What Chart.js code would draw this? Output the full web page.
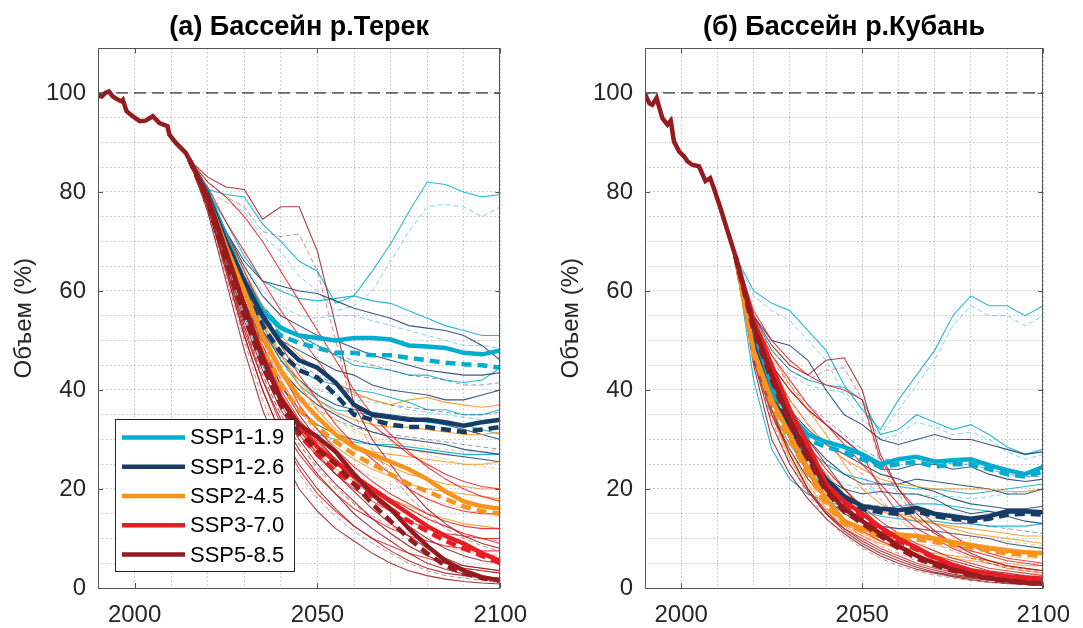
<!DOCTYPE html>
<html>
<head>
<meta charset="utf-8">
<script src="https://cdn.jsdelivr.net/npm/chart.js@4.4.1/dist/chart.umd.min.js"></script>
<style>
  body { margin: 0; background: #fff; width: 1083px; height: 628px; overflow: hidden; position: relative; }
  #chartA { position: absolute; left: 0; top: 0; }
  #chartB { position: absolute; left: 547px; top: 0; }
</style>
</head>
<body>
<canvas id="chartA" width="540" height="628"></canvas>
<canvas id="chartB" width="536" height="628"></canvas>
<script>
// сценарии
const ssp = ["SSP1-1.9", "SSP1-2.6", "SSP2-4.5", "SSP3-7.0", "SSP5-8.5"];
const sspRgb = [[0, 173, 207], [23, 60, 102], [247, 148, 32], [231, 29, 37], [149, 27, 30]];

// годы проекций (первая точка берётся из исторического ряда)
const projYears = [2020, 2025, 2030, 2035, 2040, 2045, 2050, 2055, 2060, 2065, 2070, 2075, 2080, 2085, 2090, 2095, 2100];

//>>>>>>>>>>>>>>>>>>>>>>>>>>>>>>>> Терек <<<<<<<<<<<<<<<<<<<<<<<<<<<<<<<<
const histYearsA = [1990, 1991, 1992, 1993, 1994, 1995.5, 1996.4, 1996.8, 1997.8, 1999.5, 2001.4, 2003, 2005, 2006.8, 2009, 2009.5, 2011.3, 2014, 2015];
const histVolA = [99.5, 99.3, 100, 100.3, 99.3, 98.6, 98.3, 98.6, 96.3, 95.3, 94.3, 94.4, 95.3, 93.9, 93.3, 91.6, 89.9, 87.9, 86.5];

const terek119Mean = [80, 71, 62, 56, 52.5, 51, 50.5, 50, 50.5, 50.5, 50.2, 49, 48.8, 48.5, 47.5, 47.2, 48];
const terek119Mean2 = [79, 70, 61, 54.5, 51, 49.5, 48.5, 47.5, 47.5, 47, 47, 46.5, 46, 45.5, 45.2, 45, 44.5];
const terek119Runs = [
  [80.5, 79.5, 79, 73.5, 70, 66, 64, 57.5, 59, 64, 69.5, 76, 82, 81.5, 80, 79, 79.5],
  [80, 74, 67, 62, 60, 58.5, 58, 58.5, 59, 58, 57.5, 56, 54.5, 53, 52, 51, 51],
  [79, 71, 63, 57, 53, 51, 49, 47, 45, 44.5, 44, 43, 43, 42, 41.5, 42, 44.5],
  [78, 69, 60, 52, 47, 44, 42, 41, 40, 39.5, 38.5, 37.5, 36, 36, 35, 35, 36],
  [79, 70, 61, 53, 46, 41, 38, 36, 35.5, 35, 34.5, 34, 33.5, 33, 33, 32, 31],
  [77, 66, 55, 45, 38, 33, 31, 30, 29.5, 29, 29, 28.5, 28, 27.5, 27, 27, 27]
];
const terek119Runs2 = [
  [80, 78, 76, 71, 68, 63, 60, 56, 57, 60, 66, 72, 77, 77.5, 77, 75, 77],
  [79, 72, 65, 60, 57, 55, 54.5, 55, 55, 54, 53, 52, 51, 50, 49, 49, 48.5],
  [77, 66, 57, 50, 45, 42, 40, 39, 38, 37.5, 37, 36, 35.5, 35, 34.5, 34, 34]
];

const terek126Mean = [79.5, 70, 62, 55, 49.5, 46, 44.5, 41.5, 37, 35, 34.5, 34, 34, 33.5, 32.8, 33.5, 34];
const terek126Mean2 = [79, 69, 60, 53, 47.5, 44, 42.5, 39, 35, 34, 33, 32.5, 32.5, 32, 31.5, 32, 32.5];
const terek126Runs = [
  [80, 72, 66, 62, 61, 60, 59.5, 58, 56.5, 55.5, 54.5, 53, 52.5, 52, 51, 49, 46],
  [80, 72, 65, 59, 55, 53, 51, 50, 48.5, 47, 46, 45, 44, 43.5, 43, 43, 43.5],
  [79, 70, 61, 54, 50, 48, 46, 44, 43, 41, 40, 39.5, 39, 38, 38, 39, 40],
  [79, 69, 60, 52, 46, 42, 39, 37, 36, 35.5, 35, 34.5, 34, 33, 32, 31, 30],
  [78, 68, 58, 50, 44, 40, 37, 35, 33, 31.5, 30.5, 30, 29.5, 29, 28, 27.5, 27],
  [78, 67, 57, 48, 41, 36, 33, 31, 30, 29, 28.5, 28, 27.5, 27, 26.5, 26, 25.5]
];
const terek126Runs2 = [
  [79, 71, 63, 57, 53, 51, 49, 47, 46, 45, 44, 43, 42.5, 42, 41, 41, 41.5],
  [78, 68, 58, 50, 44, 39, 36, 34, 32.5, 31.5, 31, 30.5, 30, 29.5, 29, 28.5, 28],
  [79, 69, 60, 53, 48, 45, 43, 41, 39, 38, 37, 36.5, 36, 35.5, 35, 35, 35.5]
];

const terek245Mean = [79, 69, 60, 51, 44, 38.5, 34.5, 31, 28.5, 27, 25.5, 24, 22, 19.5, 17.5, 16.5, 16];
const terek245Mean2 = [78, 67, 57, 48, 41, 36, 32.5, 29.5, 27, 25, 23, 21, 19.5, 18, 16.5, 15.5, 15];
const terek245Runs = [
  [80, 72, 64, 57, 51, 47, 44, 41.5, 39.5, 38, 37, 38, 38.5, 37.5, 37, 36.5, 37],
  [79, 70, 61, 53, 47, 42, 38, 35.5, 34, 33, 32.5, 32.5, 32, 31.5, 31, 31, 31.5],
  [79, 69, 59, 50, 43, 38, 34, 31, 29, 27.5, 27, 26.5, 26, 25.5, 25, 25, 25.5],
  [78, 68, 58, 49, 42, 36, 32, 28.5, 26, 24, 22.5, 21, 20, 19.5, 19, 18.5, 18],
  [78, 67, 56, 46, 38, 32, 27.5, 24, 21.5, 19.5, 18, 16.5, 15, 14, 13, 12.5, 12],
  [80, 71, 62, 54, 47, 41, 36, 32, 29, 26.5, 24.5, 23, 22, 21, 20.5, 20, 20]
];
const terek245Runs2 = [
  [79, 70, 61, 53, 46, 41, 37, 34, 31.5, 30, 29, 28, 27, 26, 25, 24.5, 24],
  [78, 67, 57, 48, 41, 35, 30.5, 27, 24.5, 22.5, 21, 19.5, 18, 17, 16, 15, 14.5],
  [79, 69, 59, 51, 45, 40, 36.5, 34, 32, 30.5, 29.5, 29, 28.5, 28, 27.5, 27.5, 28]
];

const terek370Mean = [79, 68, 57, 47, 38.5, 33, 28.5, 25.5, 22.5, 20, 17.5, 15, 12.5, 10.5, 9, 7, 5.5];
const terek370Mean2 = [78, 66, 55, 45, 37, 31, 27, 23.5, 21, 18.5, 16, 13.5, 11.5, 9.5, 8, 6.5, 5];
const terek370Runs = [
  [81, 74, 68, 62, 56, 51, 46, 41, 37, 33, 30, 27, 25, 23, 21.5, 20.5, 20],
  [80, 72, 64, 56, 49, 43, 38, 33, 29, 26, 23, 20, 18, 16.5, 15.5, 15, 15],
  [79, 70, 61, 52, 44, 37, 32, 28, 24.5, 21.5, 19, 17, 15, 13.5, 12.5, 12, 12],
  [78, 67, 56, 46, 37, 31, 26.5, 23, 20, 17.5, 15.5, 13.5, 12, 11, 10.5, 10, 10],
  [77, 65, 53, 42, 33, 27, 22.5, 19, 16, 14, 12, 10.5, 9.5, 8.5, 8, 7.5, 7.5],
  [77, 64, 51, 40, 31, 24, 19, 15.5, 12.5, 10, 8.5, 7, 6, 5, 4.5, 4, 3.5],
  [82, 79, 75, 70, 64, 58, 52, 46, 40, 35, 31, 27.5, 24.5, 22, 20, 18.5, 17.5],
  [79, 69, 58, 48, 40, 34, 29.5, 26, 23, 20.5, 18, 16, 14, 12.5, 11, 10, 9]
];
const terek370Runs2 = [
  [79, 69, 59, 50, 42, 36, 31, 27, 23.5, 20.5, 18, 16, 14, 12.5, 11, 10, 9.5],
  [77, 65, 53, 43, 35, 29, 24, 20, 17, 14.5, 12.5, 11, 9.5, 8.5, 7.5, 7, 6.5]
];

const terek585Mean = [79, 68, 57, 46.5, 38, 33, 30.5, 27.5, 23, 19, 16, 12, 8.5, 5.5, 3.5, 2.2, 1.5];
const terek585Mean2 = [78, 66, 55, 45, 37, 31.5, 28, 25, 21, 17, 13.5, 10, 7, 4.5, 3, 2, 1.5];
const terek585Runs = [
  [83, 81, 80.5, 74.5, 77, 77, 68, 53, 37, 30, 25, 20, 16, 13, 10.5, 9, 8],
  [78, 66, 54, 44, 36, 30, 25, 21, 17.5, 14, 11, 8.5, 6.5, 5, 4, 3.5, 3],
  [77, 64, 51, 40, 31, 25, 20, 16, 12.5, 10, 7.5, 5.5, 4, 3, 2.5, 2, 1.5],
  [76, 62, 48, 36, 27, 20, 15.5, 12, 9.5, 7, 5, 3.5, 2.5, 1.8, 1.3, 1, 0.8],
  [79, 68, 58, 49, 41, 35, 30, 26, 22, 18.5, 15.5, 12.5, 10, 8, 6.5, 5.5, 5],
  [78, 67, 56, 46, 38, 32, 27, 23, 19.5, 16, 13, 10.5, 8, 6, 4.5, 4, 3.5],
  [77, 65, 52, 42, 34, 28, 23, 19, 15, 12, 9.5, 7, 5, 3.8, 2.8, 2.2, 2]
];
const terek585Runs2 = [
  [82, 79, 77, 72, 71, 71.5, 64, 50, 35, 28, 23, 18.5, 15, 12, 10, 8.5, 7.5],
  [76, 63, 50, 38, 29, 23, 18, 14.5, 11.5, 9, 7, 5, 3.5, 2.5, 2, 1.5, 1],
  [77, 65, 53, 43, 35, 29, 24.5, 20.5, 17, 14, 11, 8.5, 6.5, 5, 4, 3.5, 3]
];

//>>>>>>>>>>>>>>>>>>>>>>>>>>>>>>>> Кубань <<<<<<<<<<<<<<<<<<<<<<<<<<<<<<<<
const histYearsB = [1990, 1991.2, 1992, 1993.2, 1994, 1994.8, 1996.2, 1997.1, 1998, 1999.4, 2000.8, 2001.7, 2003, 2004.9, 2006.7, 2008, 2009, 2010.8, 2013.1, 2015];
const histVolB = [99.8, 97.9, 97.6, 99, 96.9, 94.9, 93.6, 94.4, 90.2, 88.2, 87.2, 86.2, 85.5, 85.2, 82.2, 82.8, 80.8, 76.8, 71.4, 67];

const kuban119Mean = [50, 40, 35, 31, 29.5, 28.5, 27, 25, 26, 26.5, 25.5, 25.8, 26, 24.8, 23.8, 23, 24.5];
const kuban119Mean2 = [49, 39, 34, 30, 28.5, 27.5, 26, 24.5, 25, 25.5, 24.5, 25, 25, 24, 23, 22.5, 23.5];
const kuban119Runs = [
  [60, 57.5, 56, 52, 48, 41, 36, 32, 38, 43, 48, 55, 59, 57, 57, 55, 57],
  [55, 48, 44, 42, 41, 40.5, 38, 31, 32, 35, 33.5, 32, 33, 31, 28.5, 27, 28],
  [52, 41, 33, 28, 25, 23, 22, 21, 20.5, 20, 20, 19.5, 19, 19.5, 20, 20.5, 21],
  [47, 36, 29, 24, 20, 17, 15.5, 14.5, 14, 13.5, 13.5, 13, 13, 12.5, 12.5, 12.5, 13],
  [42, 28, 22, 19, 17.5, 16.5, 16, 16, 16.5, 17, 17, 16.5, 16, 15.5, 15, 15, 15]
];
const kuban119Runs2 = [
  [59, 56, 54, 50, 46, 39, 34, 31, 36, 41, 46, 53, 57, 55, 55, 53, 55],
  [54, 47, 43, 41, 40, 39.5, 37, 30, 31, 33.5, 32.5, 31, 31.5, 30, 27.5, 26, 27],
  [49, 38, 31, 26.5, 23, 21, 20, 19.5, 19, 19, 18.5, 18.5, 18, 18.5, 19, 19.5, 20]
];

const kuban126Mean = [49, 38, 33, 27, 22, 18.5, 16.5, 16, 15.7, 16.2, 15, 14.5, 14, 14.5, 15.5, 15.5, 15.3];
const kuban126Mean2 = [48, 37, 32, 26, 21, 18, 16, 15.3, 15, 15.5, 14.5, 14, 13.5, 14, 14.8, 15, 14.8];
const kuban126Runs = [
  [55, 50, 49, 46, 40, 35, 33, 30, 29, 30, 31, 30, 30, 29, 28, 27, 27.5],
  [52, 45, 40, 36, 33, 30, 27, 24, 24, 25, 25, 24, 24.5, 23, 22, 21.5, 22],
  [50, 41, 35, 30, 26, 23, 21, 21, 21, 22, 21.5, 21, 20.5, 20, 19, 19, 20],
  [48, 38, 31, 26, 22, 20, 19, 19.5, 19, 19, 18, 16, 15, 15.5, 14.5, 13.5, 13],
  [46, 35, 28, 22, 18, 15, 13.5, 12.5, 12, 12, 11.5, 11, 10.5, 10, 9, 8.5, 8],
  [51, 42, 36, 32, 29, 27, 25, 23, 22, 20.5, 19.5, 18, 17, 16.5, 16, 16, 16.5]
];
const kuban126Runs2 = [
  [52, 46, 41, 37, 34, 31, 28, 26, 26, 26.5, 26, 25, 25, 24, 23, 22.5, 22.5],
  [47, 37, 30, 25, 21, 18.5, 17, 16.5, 16, 15.5, 14.5, 13.5, 13, 12.5, 12, 11.5, 11]
];

const kuban245Mean = [48, 38, 31, 24, 18, 13.5, 12, 11, 10.8, 10.5, 10, 9.3, 8.7, 8, 7.5, 7.2, 7];
const kuban245Mean2 = [47, 37, 30, 23, 17, 13, 11.5, 10.5, 10, 9.8, 9.3, 8.7, 8.2, 7.5, 7, 6.7, 6.5];
const kuban245Runs = [
  [54, 45, 38, 33, 29, 26, 24, 22, 21, 20.5, 20, 20, 20, 20, 19.5, 19.5, 20],
  [52, 42, 34, 28, 23, 19, 17, 15.5, 14.5, 13.5, 13, 12.5, 12, 11.5, 11, 10.5, 10.5],
  [50, 39, 31, 25, 20, 16, 13.5, 12, 11, 10.5, 10, 9.5, 9, 8.5, 8, 7.5, 7],
  [48, 36, 28, 21, 16, 13, 11, 9.5, 8.5, 7.5, 7, 6.5, 6, 5.5, 5, 4.5, 4.5],
  [55, 47, 41, 36, 31, 25, 20, 17, 15, 14, 13, 12, 11, 10.5, 10, 9.5, 9],
  [47, 35, 26, 20, 15.5, 12.5, 10.5, 9, 8, 7, 6.5, 6, 5.5, 5, 4, 3.5, 3]
];
const kuban245Runs2 = [
  [51, 41, 33, 27, 22, 18, 15.5, 14, 13, 12, 11.5, 11, 10.5, 10, 9.5, 9, 8.5],
  [49, 38, 30, 24, 19, 15, 12.5, 11, 10, 9, 8.5, 8, 7.5, 7, 6.5, 6, 6]
];

const kuban370Mean = [54, 45, 36, 29, 21, 17.5, 15, 12.3, 10, 8.2, 6.2, 4.7, 3.6, 3, 2.4, 2, 1.8];
const kuban370Mean2 = [53, 44, 35, 28, 20.5, 17, 14.5, 12, 9.5, 7.8, 6, 4.5, 3.5, 2.8, 2.2, 1.9, 1.6];
const kuban370Runs = [
  [56, 50, 46, 43, 41, 40, 38, 26, 20, 16, 13, 10.5, 8.5, 7, 6, 5.5, 5],
  [53, 45, 40, 36, 33, 30, 27, 20, 15, 12, 10, 8, 6.5, 5.5, 4.5, 4, 3.5],
  [51, 42, 35, 29, 24, 20, 16.5, 13.5, 11, 9, 7.5, 6, 5, 4, 3.5, 3, 2.5],
  [49, 38, 30, 23, 18, 14, 11.5, 9.5, 8, 6.5, 5.5, 4.5, 3.5, 3, 2.5, 2, 1.8],
  [47, 35, 27, 20, 15.5, 12, 10, 8, 6.5, 5, 4, 3.2, 2.6, 2, 1.6, 1.3, 1.1],
  [54, 47, 42, 37, 33, 29, 25, 21, 17, 13.5, 11, 9, 7.5, 6.5, 5.5, 5, 4.5]
];
const kuban370Runs2 = [
  [52, 44, 38, 33, 29, 26, 23, 18, 14, 11, 9, 7.5, 6, 5, 4, 3.5, 3],
  [48, 36, 28, 22, 17, 13, 10.5, 8.5, 7, 5.5, 4.5, 3.5, 3, 2.5, 2, 1.7, 1.5]
];

const kuban585Mean = [53, 43, 34, 27, 20, 16, 13.5, 11, 8.5, 6.5, 5, 3.8, 2.8, 2, 1.5, 1.1, 0.9];
const kuban585Mean2 = [52, 42, 33, 26, 19.5, 15.5, 13, 10.5, 8, 6, 4.6, 3.5, 2.6, 1.9, 1.4, 1, 0.8];
const kuban585Runs = [
  [55, 49, 45, 43, 46, 46.5, 40, 27, 20, 15, 11.5, 9, 7, 5.5, 4.5, 4, 3.5],
  [48, 36, 27, 20, 15, 11.5, 9, 7, 5.5, 4.2, 3.2, 2.5, 2, 1.6, 1.3, 1.1, 1],
  [46, 33, 25, 19.5, 15, 12, 9.5, 7.5, 6, 4.6, 3.6, 2.8, 2.2, 1.7, 1.3, 1, 0.8],
  [45, 30, 23, 18, 14, 11, 8.5, 6.5, 5, 3.8, 3, 2.3, 1.7, 1.2, 0.9, 0.7, 0.5],
  [52, 43, 36, 30, 25, 20, 16, 12.5, 10, 8, 6.5, 5.5, 4.5, 3.5, 3, 2.5, 2.2],
  [50, 40, 32, 26, 21, 17, 13.5, 11, 8.5, 6.5, 5, 4, 3, 2.3, 1.8, 1.5, 1.2]
];
const kuban585Runs2 = [
  [54, 48, 44, 42, 44, 44.5, 38, 25, 19, 14, 11, 8.5, 6.5, 5, 4.3, 3.8, 3.3],
  [46, 34, 25, 19, 14, 10.5, 8, 6, 4.5, 3.5, 2.6, 2, 1.5, 1.1, 0.9, 0.7, 0.6],
  [51, 41, 34, 28, 23, 18.5, 15, 12, 9.5, 7.5, 6, 4.8, 3.8, 3, 2.4, 2, 1.7]
];

const yTicks = [0, 20, 40, 60, 80, 100];
const xTicks = [2000, 2050, 2100];

//>>>>>>>>>>>>>>>>>>>>>>>>>>>>>>>> построение <<<<<<<<<<<<<<<<<<<<<<<<<<<<<<<<
const fontFam = '"Liberation Sans", Arial, Helvetica, sans-serif';
const axisColor = "#262626";

function rgba(c, a) {
  return "rgba(" + c[0] + "," + c[1] + "," + c[2] + "," + a + ")";
}

function serie(x0, y0, vals) {
  let pts = [{ x: x0, y: y0 }];
  for (let i = 0; i < vals.length; i++) pts.push({ x: projYears[i], y: vals[i] });
  return pts;
}

function line(data, color, width, dash) {
  return {
    data: data,
    borderColor: color,
    borderWidth: width,
    borderDash: dash || [],
    pointRadius: 0,
    fill: false,
    tension: 0,
  };
}

function buildDatasets(hx, hy, groups) {
  const x0 = hx[hx.length - 1];
  const y0 = hy[hy.length - 1];
  let ds = []; // снизу вверх
  groups.forEach((g, i) => {
    g.runs2.forEach((r) => ds.push(line(serie(x0, y0, r), rgba(sspRgb[i], 0.5), 1, [5, 3])));
    g.runs.forEach((r) => ds.push(line(serie(x0, y0, r), rgba(sspRgb[i], 0.85), 1.1)));
  });
  groups.forEach((g, i) => {
    ds.push(line(serie(x0, y0, g.mean2), rgba(sspRgb[i], 1), 4.5, [10, 6]));
    ds.push(line(serie(x0, y0, g.mean), rgba(sspRgb[i], 1), 4.5));
  });
  ds.push(line([{ x: 1990, y: 100 }, { x: 2100, y: 100 }], "#000", 1, [12, 6]));
  let hist = hx.map((x, i) => ({ x: x, y: hy[i] }));
  ds.push(line(hist, rgba(sspRgb[4], 1), 4.5));
  return ds.reverse(); // в Chart.js первый набор рисуется сверху
}

// рамка и внутренние засечки
const framePlugin = {
  id: "frame",
  afterDraw(chart) {
    const ctx = chart.ctx;
    const a = chart.chartArea;
    const sx = chart.scales.x;
    const sy = chart.scales.y;
    ctx.save();
    ctx.strokeStyle = "#555";
    ctx.lineWidth = 1;
    ctx.strokeRect(Math.round(a.left) + 0.5, Math.round(a.top) + 0.5, Math.round(a.right - a.left) - 1, Math.round(a.bottom - a.top));
    ctx.beginPath();
    xTicks.forEach((v) => {
      const px = Math.round(sx.getPixelForValue(v)) + 0.5;
      ctx.moveTo(px, a.bottom); ctx.lineTo(px, a.bottom - 5);
      ctx.moveTo(px, a.top); ctx.lineTo(px, a.top + 5);
    });
    yTicks.forEach((v) => {
      const py = Math.round(sy.getPixelForValue(v)) + 0.5;
      ctx.moveTo(a.left, py); ctx.lineTo(a.left + 5, py);
      ctx.moveTo(a.right, py); ctx.lineTo(a.right - 5, py);
    });
    ctx.stroke();
    ctx.restore();
  },
};

// легенда внутри левого графика
const legendPlugin = {
  id: "sspLegend",
  afterDraw(chart) {
    const ctx = chart.ctx;
    const a = chart.chartArea;
    const bx = a.left + 17, by = a.top + 371, bw = 179, bh = 152;
    ctx.save();
    ctx.fillStyle = "#fff";
    ctx.fillRect(bx, by, bw, bh);
    ctx.strokeStyle = axisColor;
    ctx.lineWidth = 1;
    ctx.strokeRect(Math.round(bx) + 0.5, Math.round(by) + 0.5, bw, bh);
    ctx.font = "22px " + fontFam;
    ctx.textBaseline = "middle";
    ssp.forEach((name, i) => {
      const yy = by + 18 + i * 29.3;
      ctx.strokeStyle = rgba(sspRgb[i], 1);
      ctx.lineWidth = 4.5;
      ctx.beginPath();
      ctx.moveTo(bx + 7, yy);
      ctx.lineTo(bx + 70, yy);
      ctx.stroke();
      ctx.fillStyle = "#000";
      ctx.fillText(name, bx + 75, yy + 1);
    });
    ctx.restore();
  },
};

function makeConfig(title, datasets, yWidth, extra) {
  return {
    type: "line",
    data: { datasets: datasets },
    options: {
      responsive: false,
      animation: false,
      layout: { padding: { left: 0, right: 34, top: 0, bottom: 0 } },
      plugins: {
        legend: { display: false },
        tooltip: { enabled: false },
        title: {
          display: true,
          text: title,
          fullSize: false,
          color: "#000",
          font: { family: fontFam, size: 27, weight: "bold" },
          padding: { top: 11, bottom: 5 },
        },
      },
      scales: {
        x: {
          type: "linear",
          min: 1990,
          max: 2100,
          ticks: {
            stepSize: 10,
            autoSkip: false,
            maxRotation: 0,
            padding: 13,
            color: axisColor,
            font: { family: fontFam, size: 24 },
            callback: (v) => (xTicks.includes(v) ? String(v) : ""),
          },
          grid: { color: "rgba(0,0,0,0.25)", drawTicks: false, lineWidth: 1 },
          border: { display: false, dash: [1.5, 2.5] },
          afterFit: (s) => { s.height = 40; },
        },
        y: {
          min: 0,
          max: 109,
          ticks: {
            stepSize: 5,
            autoSkip: false,
            padding: 12,
            color: axisColor,
            font: { family: fontFam, size: 24 },
            callback: (v) => (yTicks.includes(v) ? String(v) : ""),
          },
          grid: { color: "rgba(0,0,0,0.25)", drawTicks: false, lineWidth: 1 },
          border: { display: false, dash: [1.5, 2.5] },
          title: {
            display: true,
            text: "Объем (%)",
            color: axisColor,
            font: { family: fontFam, size: 24 },
            padding: { top: 10, bottom: 0 },
          },
          afterFit: (s) => { s.width = yWidth; },
        },
      },
    },
    plugins: extra,
  };
}

const groupsA = [
  { mean: terek119Mean, mean2: terek119Mean2, runs: terek119Runs, runs2: terek119Runs2 },
  { mean: terek126Mean, mean2: terek126Mean2, runs: terek126Runs, runs2: terek126Runs2 },
  { mean: terek245Mean, mean2: terek245Mean2, runs: terek245Runs, runs2: terek245Runs2 },
  { mean: terek370Mean, mean2: terek370Mean2, runs: terek370Runs, runs2: terek370Runs2 },
  { mean: terek585Mean, mean2: terek585Mean2, runs: terek585Runs, runs2: terek585Runs2 },
];
const groupsB = [
  { mean: kuban119Mean, mean2: kuban119Mean2, runs: kuban119Runs, runs2: kuban119Runs2 },
  { mean: kuban126Mean, mean2: kuban126Mean2, runs: kuban126Runs, runs2: kuban126Runs2 },
  { mean: kuban245Mean, mean2: kuban245Mean2, runs: kuban245Runs, runs2: kuban245Runs2 },
  { mean: kuban370Mean, mean2: kuban370Mean2, runs: kuban370Runs, runs2: kuban370Runs2 },
  { mean: kuban585Mean, mean2: kuban585Mean2, runs: kuban585Runs, runs2: kuban585Runs2 },
];

var chartA = new Chart(
  document.getElementById("chartA"),
  makeConfig("(а) Бассейн р.Терек", buildDatasets(histYearsA, histVolA, groupsA), 98, [framePlugin, legendPlugin])
);
var chartB = new Chart(
  document.getElementById("chartB"),
  makeConfig("(б) Бассейн р.Кубань", buildDatasets(histYearsB, histVolB, groupsB), 98, [framePlugin])
);
</script>
</body>
</html>
